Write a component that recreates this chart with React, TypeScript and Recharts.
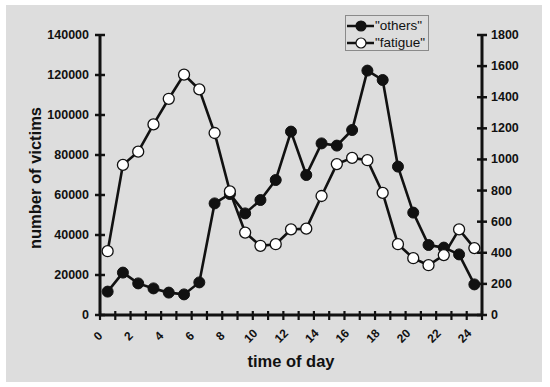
import { LineChart, Line, XAxis, YAxis, Legend, Label } from 'recharts';

// hour of day, plotted at the middle of each hour bin
const hours = [
  0.5, 1.5, 2.5, 3.5, 4.5, 5.5, 6.5, 7.5, 8.5, 9.5, 10.5, 11.5, 12.5,
  13.5, 14.5, 15.5, 16.5, 17.5, 18.5, 19.5, 20.5, 21.5, 22.5, 23.5, 24.5,
];

// "others" - left axis
const others = [
  11700, 21200, 15800, 13300, 11200, 10300, 16300, 55800, 60500, 50800,
  57500, 67500, 91700, 70000, 85800, 84700, 92500, 122200, 117500, 74200,
  51200, 35000, 33700, 30300, 15300,
];

// "fatigue" - right axis
const fatigue = [
  410, 965, 1050, 1225, 1390, 1545, 1450, 1170, 795, 530, 445, 455, 550,
  555, 765, 970, 1010, 995, 785, 455, 365, 320, 385, 550, 430,
];

const hourTicks = [
  0, 1, 2, 3, 4, 5, 6, 7, 8, 9, 10, 11, 12, 13, 14, 15, 16, 17, 18, 19, 20,
  21, 22, 23, 24, 25,
];
const victimTicks = [0, 20000, 40000, 60000, 80000, 100000, 120000, 140000];
const fatigueTicks = [0, 200, 400, 600, 800, 1000, 1200, 1400, 1600, 1800];

const seriesNames = ['"others"', '"fatigue"'];

const data = hours.map((h, i) => ({
  hour: h,
  others: others[i],
  fatigue: fatigue[i],
}));

const FONT = '"Liberation Sans", Arial, Helvetica, sans-serif';
const INK = '#111';

const HourTick = (props: any) => {
  const { x, y, payload } = props;
  const v = payload.value;
  const tx = x - 2;
  const ty = y + 21;
  return (
    <g>
      <line x1={x} x2={x} y1={y - 4} y2={y + 5} stroke={INK} strokeWidth={2.2} />
      {v % 2 === 0 && (
        <text
          x={tx}
          y={ty}
          textAnchor="middle"
          dominantBaseline="central"
          transform={`rotate(-45 ${tx} ${ty})`}
          fontSize={12}
          fontWeight="bold"
          fontFamily={FONT}
          fill={INK}
        >
          {v}
        </text>
      )}
    </g>
  );
};

const LeftTick = (props: any) => {
  const { x, y, payload } = props;
  return (
    <g>
      <line x1={x - 5} x2={x + 5} y1={y} y2={y} stroke={INK} strokeWidth={2.5} />
      <text
        x={x - 11}
        y={y}
        textAnchor="end"
        dominantBaseline="central"
        fontSize={12.5}
        fontWeight="bold"
        fontFamily={FONT}
        fill={INK}
      >
        {payload.value}
      </text>
    </g>
  );
};

const RightTick = (props: any) => {
  const { x, y, payload } = props;
  return (
    <g>
      <line x1={x - 5} x2={x + 5} y1={y} y2={y} stroke={INK} strokeWidth={2.5} />
      <text
        x={x + 9}
        y={y}
        textAnchor="start"
        dominantBaseline="central"
        fontSize={12.5}
        fontWeight="bold"
        fontFamily={FONT}
        fill={INK}
      >
        {payload.value}
      </text>
    </g>
  );
};

const LegendBox = () => (
  <div
    style={{
      width: 84,
      height: 36,
      boxSizing: 'border-box',
      border: '1px solid #8a8a8a',
      background: '#dddddd',
      fontFamily: FONT,
      fontSize: 13.5,
      color: INK,
      paddingTop: 1,
    }}
  >
    {seriesNames.map((name, i) => (
      <div key={name} style={{ display: 'flex', alignItems: 'center', height: 17 }}>
        <svg width={29} height={16} style={{ flex: 'none' }}>
          <line x1={1} x2={28} y1={8} y2={8} stroke={INK} strokeWidth={2.5} />
          <circle
            cx={15}
            cy={8}
            r={5}
            fill={i === 0 ? INK : '#fff'}
            stroke={INK}
            strokeWidth={1.2}
          />
        </svg>
        <span style={{ lineHeight: '16px' }}>{name}</span>
      </div>
    ))}
  </div>
);

const App = () => {
  return (
    <div style={{ position: 'absolute', left: 0, top: 0, width: 550, height: 387, background: '#fff' }}>
      <div
        style={{
          position: 'absolute',
          left: 6,
          top: 5,
          width: 536,
          height: 377,
          background: '#dddddd',
        }}
      />
      <div style={{ position: 'absolute', left: 0, top: 0 }}>
        <LineChart
          width={550}
          height={387}
          data={data}
          margin={{ top: 35, right: 0, bottom: 0, left: 0 }}
          style={{ fontFamily: FONT }}
        >
          <XAxis
            dataKey="hour"
            type="number"
            domain={[0, 25]}
            ticks={hourTicks}
            interval={0}
            height={72}
            tickSize={0}
            tickMargin={0}
            tickLine={false}
            tick={<HourTick />}
            axisLine={{ stroke: INK, strokeWidth: 3 }}
          >
            <Label
              content={(p: any) => {
                const { x, y, width } = p.viewBox;
                return (
                  <text
                    x={x + width / 2}
                    y={y + 52}
                    textAnchor="middle"
                    fontSize={16.5}
                    fontWeight="bold"
                    fontFamily={FONT}
                    fill={INK}
                  >
                    time of day
                  </text>
                );
              }}
            />
          </XAxis>
          <YAxis
            yAxisId="left"
            domain={[0, 140000]}
            ticks={victimTicks}
            interval={0}
            width={100}
            tickSize={0}
            tickMargin={0}
            tickLine={false}
            tick={<LeftTick />}
            axisLine={{ stroke: INK, strokeWidth: 3 }}
          >
            <Label
              content={(p: any) => {
                const { x, y, height } = p.viewBox;
                const cx = x + 35;
                const cy = y + height / 2 + 3;
                return (
                  <text
                    x={cx}
                    y={cy}
                    textAnchor="middle"
                    dominantBaseline="central"
                    transform={`rotate(-90 ${cx} ${cy})`}
                    fontSize={16.5}
                    fontWeight="bold"
                    fontFamily={FONT}
                    fill={INK}
                  >
                    number of victims
                  </text>
                );
              }}
            />
          </YAxis>
          <YAxis
            yAxisId="right"
            orientation="right"
            domain={[0, 1800]}
            ticks={fatigueTicks}
            interval={0}
            width={68}
            tickSize={0}
            tickMargin={0}
            tickLine={false}
            tick={<RightTick />}
            axisLine={{ stroke: INK, strokeWidth: 3 }}
          />
          <Legend
            layout="vertical"
            align="center"
            verticalAlign="middle"
            content={<LegendBox />}
            wrapperStyle={{ left: 345, top: 15, width: 84, height: 36 }}
          />
          <Line
            yAxisId="left"
            dataKey="others"
            name={seriesNames[0]}
            stroke={INK}
            strokeWidth={2.6}
            dot={{ r: 5.5, fill: INK, stroke: INK, strokeWidth: 1 }}
            activeDot={false}
            isAnimationActive={false}
          />
          <Line
            yAxisId="right"
            dataKey="fatigue"
            name={seriesNames[1]}
            stroke={INK}
            strokeWidth={2.6}
            dot={{ r: 5.5, fill: '#fff', stroke: INK, strokeWidth: 1.3 }}
            activeDot={false}
            isAnimationActive={false}
          />
        </LineChart>
      </div>
    </div>
  );
};

export default App;
